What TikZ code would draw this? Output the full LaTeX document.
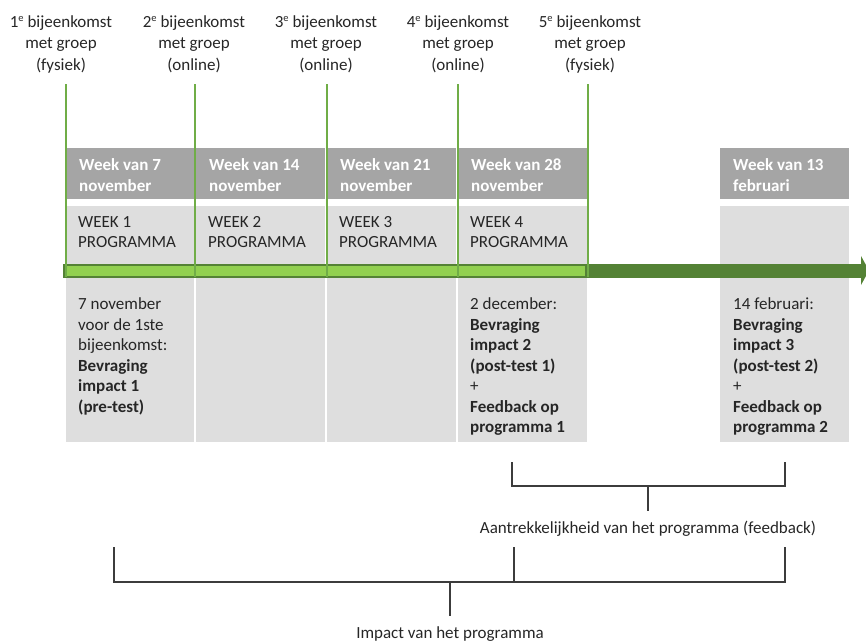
\documentclass[tikz,border=0pt]{standalone}
\usepackage{fontspec}
\setmainfont{Carlito}
\definecolor{hdr}{HTML}{A5A5A5}
\definecolor{cell}{HTML}{DEDEDE}
\definecolor{dgreen}{HTML}{548235}
\definecolor{lgreen}{HTML}{92D050}
\definecolor{vgreen}{HTML}{70AD47}
\definecolor{txt}{HTML}{262626}
\newcommand{\supe}{\raisebox{0.33em}{\fontsize{10.5}{10.5}\selectfont e}}
\tikzset{
  hdrbox/.style={fill=hdr, draw=none, anchor=north west, inner sep=0, minimum height=51pt},
  cellbox/.style={fill=cell, draw=none, anchor=north west, inner sep=0, minimum height=236pt},
  hdrtxt/.style={text=white, font=\bfseries\fontsize{17}{20.5}\selectfont, anchor=north west, inner sep=0, align=left},
  bodytxt/.style={text=txt, font=\fontsize{17}{20.5}\selectfont, anchor=north west, inner sep=0, align=left},
  toplabel/.style={text=txt, anchor=north, inner sep=0, align=center, font=\fontsize{17}{21.7}\selectfont},
  brklabel/.style={text=txt, anchor=base, inner sep=0, font=\fontsize{17}{20.5}\selectfont},
  vline/.style={draw=vgreen, line width=1.3pt},
  brk/.style={draw=txt!90, line width=1.3pt},
}
\begin{document}
\begin{tikzpicture}[x=1pt,y=-1pt]
\useasboundingbox (0,0) rectangle (866,641);

% header boxes
\node[hdrbox, minimum width=128pt] (h1) at (66,148) {};
\node[hdrbox, minimum width=129pt] (h2) at (196,148) {};
\node[hdrbox, minimum width=129pt] (h3) at (327,148) {};
\node[hdrbox, minimum width=129pt] (h4) at (458,148) {};
\node[hdrbox, minimum width=129pt] (h5) at (720,148) {};
% cell boxes
\node[cellbox, minimum width=128pt] (c1) at (66,206) {};
\node[cellbox, minimum width=129pt] (c2) at (196,206) {};
\node[cellbox, minimum width=129pt] (c3) at (327,206) {};
\node[cellbox, minimum width=129pt] (c4) at (458,206) {};
\node[cellbox, minimum width=129pt] (c5) at (720,206) {};

% header texts
\node[hdrtxt] (ht1) at (79,158.5) {Week van 7\\november};
\node[hdrtxt] (ht2) at (209,158.5) {Week van 14\\november};
\node[hdrtxt] (ht3) at (340,158.5) {Week van 21\\november};
\node[hdrtxt] (ht4) at (471,158.5) {Week van 28\\november};
\node[hdrtxt] (ht5) at (733,158.5) {Week van 13\\februari};

% week texts
\node[bodytxt] (w1) at (78,216) {WEEK 1\\PROGRAMMA};
\node[bodytxt] (w2) at (208,216) {WEEK 2\\PROGRAMMA};
\node[bodytxt] (w3) at (339,216) {WEEK 3\\PROGRAMMA};
\node[bodytxt] (w4) at (470,216) {WEEK 4\\PROGRAMMA};

% lower texts
\node[bodytxt] (l1) at (78,297.5) {7 november\\voor de 1ste\\bijeenkomst:\\\textbf{Bevraging}\\\textbf{impact 1}\\\textbf{(pre-test)}};
\node[bodytxt] (l4) at (470,297.5) {2 december:\\\textbf{Bevraging}\\\textbf{impact 2}\\\textbf{(post-test 1)}\\+\\\textbf{Feedback op}\\\textbf{programma 1}};
\node[bodytxt] (l5) at (733,297.5) {14 februari:\\\textbf{Bevraging}\\\textbf{impact 3}\\\textbf{(post-test 2)}\\+\\\textbf{Feedback op}\\\textbf{programma 2}};

% timeline arrow
\coordinate (as) at (63,270.5);
\coordinate (ae) at (862,270.5);
\fill[dgreen] (63,263.5) rectangle (862,277.5);
\fill[dgreen] (861,256) -- (869,270.5) -- (861,285) -- cycle;
\fill[lgreen] (65.5,266) rectangle (585,275.5);

% top labels
\node[toplabel] (t1) at (61,15) {1\supe{} bijeenkomst\\met groep\\(fysiek)};
\node[toplabel] (t2) at (194,15) {2\supe{} bijeenkomst\\met groep\\(online)};
\node[toplabel] (t3) at (326,15) {3\supe{} bijeenkomst\\met groep\\(online)};
\node[toplabel] (t4) at (458,15) {4\supe{} bijeenkomst\\met groep\\(online)};
\node[toplabel] (t5) at (590,15) {5\supe{} bijeenkomst\\met groep\\(fysiek)};

% vertical green lines
\foreach \i/\x in {1/66,2/195,3/327,4/458,5/588}{
  \coordinate (vt\i) at (\x,84);
  \coordinate (vb\i) at (\x,277);
  \draw[vline] (vt\i) -- (vb\i);
}

% feedback bracket
\coordinate (fa) at (512,462);
\coordinate (fb) at (785,462);
\coordinate (fm) at (648,486);
\node[brklabel] (fl) at (648,533) {Aantrekkelijkheid van het programma (feedback)};
\draw[brk] (fa) -- (fa |- fm) -- (fb |- fm) -- (fb);
\draw[brk] (fm) -- (648,511);

% impact bracket
\coordinate (ia) at (114,547);
\coordinate (ib) at (785,547);
\coordinate (ic) at (514,547);
\coordinate (im) at (450,582);
\node[brklabel] (il) at (450,638) {Impact van het programma};
\draw[brk] (ia) -- (ia |- im) -- (ib |- im) -- (ib);
\draw[brk] (ic) -- (ic |- im);
\draw[brk] (im) -- (450,616);
\end{tikzpicture}
\end{document}
